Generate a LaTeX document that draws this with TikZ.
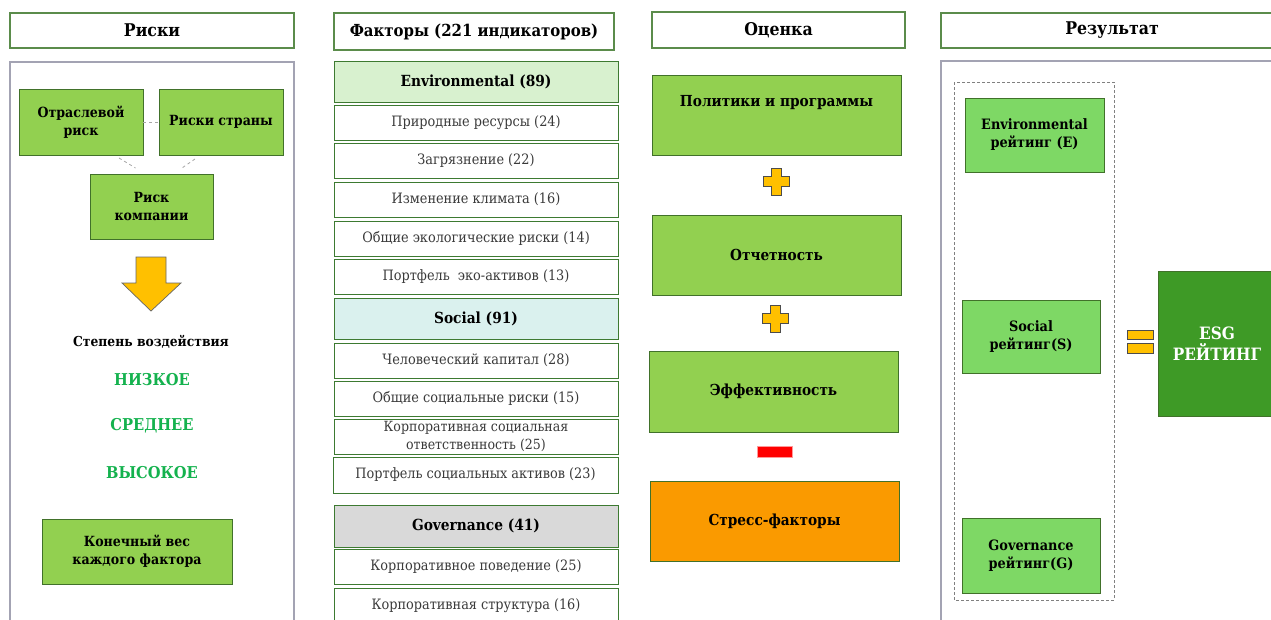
\documentclass[tikz,border=0pt]{standalone}
\usepackage{fontspec}
\setmainfont{DejaVu Serif Condensed}
\usetikzlibrary{calc}
\definecolor{hdrgreen}{HTML}{5B8C4B}
\definecolor{outergray}{HTML}{A3A3B3}
\definecolor{lgreen}{HTML}{92D050}
\definecolor{gborder}{HTML}{41712A}
\definecolor{fborder}{HTML}{3D7A31}
\definecolor{envfill}{HTML}{D8F1CF}
\definecolor{socfill}{HTML}{DAF1EE}
\definecolor{govfill}{HTML}{D9D9D9}
\definecolor{rgreen}{HTML}{7ED865}
\definecolor{esggreen}{HTML}{3E9A26}
\definecolor{stressor}{HTML}{FA9A00}
\definecolor{yel}{HTML}{FFC000}
\definecolor{lvl}{HTML}{14B24E}
\definecolor{itemtext}{HTML}{3A3A3A}
\tikzset{
  base/.style={anchor=north west, inner sep=0pt, outer sep=0pt, align=center},
  hdr/.style={base, draw=hdrgreen, line width=1.2pt, fill=white, font=\bfseries\fontsize{17.5}{20}\selectfont},
  outerbox/.style={draw=outergray, line width=1.5pt},
  gbox/.style={base, draw=gborder, fill=lgreen, line width=1pt, font=\bfseries\fontsize{14}{18}\selectfont},
  ebox/.style={base, draw=gborder, fill=lgreen, line width=1pt, font=\bfseries\fontsize{15.2}{18}\selectfont},
  fitem/.style={base, draw=fborder, fill=white, line width=1pt, text=itemtext, font=\fontsize{14.3}{16}\selectfont},
  fcat/.style={base, draw=fborder, line width=1pt, font=\bfseries\fontsize{15.3}{18}\selectfont},
  rbox/.style={base, draw=gborder, fill=rgreen, line width=1pt, font=\bfseries\fontsize{14.3}{18}\selectfont},
  lvltext/.style={text=lvl, font=\bfseries\fontsize{16.3}{19}\selectfont},
  conn/.style={draw=gray!70, dashed, line width=0.8pt},
  signfill/.style={fill=yel, draw=black!70, line width=0.8pt}
}
\begin{document}
\begin{tikzpicture}[x=1pt,y=-1pt]
\clip (0,0) rectangle (1271,619);
\fill[white] (0,0) rectangle (1271,619);

% headers
\node[hdr, minimum width=284, minimum height=35] (h1) at (10,13) {Риски};
\node[hdr, minimum width=280, minimum height=37, font=\bfseries\fontsize{16.6}{20}\selectfont] (h2) at (334,13) {Факторы (221 индикаторов)};
\node[hdr, minimum width=253, minimum height=36] (h3) at (652,12) {Оценка};
\node[hdr, minimum width=360, minimum height=35] (h4) at (941,13) {\hspace*{-18pt}Результат};

% outer boxes
\draw[outerbox] (10,62) rectangle (294,640);
\draw[outerbox] (941,61) rectangle (1300,640);

% left column
\node[gbox, minimum width=124, minimum height=66] (otr) at (19,89) {Отраслевой\\риск};
\node[gbox, minimum width=124, minimum height=66] (str) at (159,89) {Риски страны};
\node[gbox, minimum width=123, minimum height=65] (comp) at (90,174) {Риск\\компании};
\draw[conn] (otr.east) -- (str.west);
\draw[conn] ($(otr.south)+(38,3)$) -- ($(comp.north)+(-16,-6)$);
\draw[conn] ($(str.south)+(-26,4)$) -- ($(comp.north)+(29,-5)$);
\filldraw[fill=yel, draw=black!60, line width=0.7pt]
  (136,257) -- (166,257) -- (166,283) -- (181,283) -- (151,311) -- (122,283) -- (136,283) -- cycle;
\node[font=\bfseries\fontsize{13.7}{16}\selectfont] (deg) at (151,342) {Степень воздействия};
\node[lvltext] (low) at (152,380) {НИЗКОЕ};
\node[lvltext] (mid) at (152,426) {СРЕДНЕЕ};
\node[lvltext] (high) at (152,473) {ВЫСОКОЕ};
\node[gbox, minimum width=190, minimum height=65] (fin) at (42,519) {Конечный вес\\каждого фактора};

% factors column
\node[fcat, fill=envfill, minimum width=284, minimum height=41] (env) at (334,61) {Environmental (89)};
\node[fitem, minimum width=284, minimum height=35] (e1) at (334,105) {Природные ресурсы (24)};
\node[fitem, minimum width=284, minimum height=35] (e2) at (334,143) {Загрязнение (22)};
\node[fitem, minimum width=284, minimum height=35] (e3) at (334,182) {Изменение климата (16)};
\node[fitem, minimum width=284, minimum height=35] (e4) at (334,221) {Общие экологические риски (14)};
\node[fitem, minimum width=284, minimum height=35] (e5) at (334,259) {Портфель\ \ эко-активов (13)};
\node[fcat, fill=socfill, minimum width=284, minimum height=41] (soc) at (334,298) {Social (91)};
\node[fitem, minimum width=284, minimum height=35] (s1) at (334,343) {Человеческий капитал (28)};
\node[fitem, minimum width=284, minimum height=35] (s2) at (334,381) {Общие социальные риски (15)};
\node[fitem, minimum width=284, minimum height=35, font=\fontsize{14}{18}\selectfont] (s3) at (334,419) {Корпоративная социальная\\ответственность (25)};
\node[fitem, minimum width=285, minimum height=36] (s4) at (333,457) {Портфель социальных активов (23)};
\node[fcat, fill=govfill, minimum width=284, minimum height=42] (gov) at (334,505) {Governance (41)};
\node[fitem, minimum width=284, minimum height=35] (g1) at (334,549) {Корпоративное поведение (25)};
\node[fitem, minimum width=284, minimum height=36] (g2) at (334,588) {Корпоративная структура (16)};

% evaluation column
\node[ebox, minimum width=249, minimum height=80] (pol) at (652,75) {Политики и программы\\[10pt]\mbox{}};
\filldraw[signfill] (771.5,168) -- (781.5,168) -- (781.5,176) -- (789.5,176) -- (789.5,186) -- (781.5,186) -- (781.5,195) -- (771.5,195) -- (771.5,186) -- (763.5,186) -- (763.5,176) -- (771.5,176) -- cycle;
\node[ebox, minimum width=249, minimum height=80] (rep) at (652,215) {Отчетность};
\filldraw[signfill] (770,305) -- (780,305) -- (780,313) -- (788,313) -- (788,323) -- (780,323) -- (780,332) -- (770,332) -- (770,323) -- (762,323) -- (762,313) -- (770,313) -- cycle;
\node[ebox, minimum width=249, minimum height=81] (eff) at (649,351) {Эффективность};
\filldraw[fill=red, draw=red!40, line width=0.6pt] (757,446) rectangle (792,457);
\node[ebox, fill=stressor, draw=gborder, minimum width=249, minimum height=80] (stress) at (650,481) {Стресс-факторы};

% result column
\draw[draw=gray, dash pattern=on 3pt off 2pt, line width=0.9pt] (954,82) rectangle (1114,600);
\node[rbox, minimum width=139, minimum height=74] (er) at (965,98) {Environmental\\рейтинг (E)};
\node[rbox, minimum width=138, minimum height=73] (sr) at (962,300) {Social\\рейтинг(S)};
\node[rbox, minimum width=138, minimum height=75] (gr) at (962,518) {Governance\\рейтинг(G)};
\filldraw[signfill] (1127,330) rectangle (1153,339);
\filldraw[signfill] (1127,343) rectangle (1153,353);
\node[base, draw=gborder, fill=esggreen, line width=1pt, text=white, minimum width=118, minimum height=145, font=\bfseries\fontsize{17}{21}\selectfont] (esg) at (1158,271) {ESG\\РЕЙТИНГ};
\end{tikzpicture}
\end{document}
